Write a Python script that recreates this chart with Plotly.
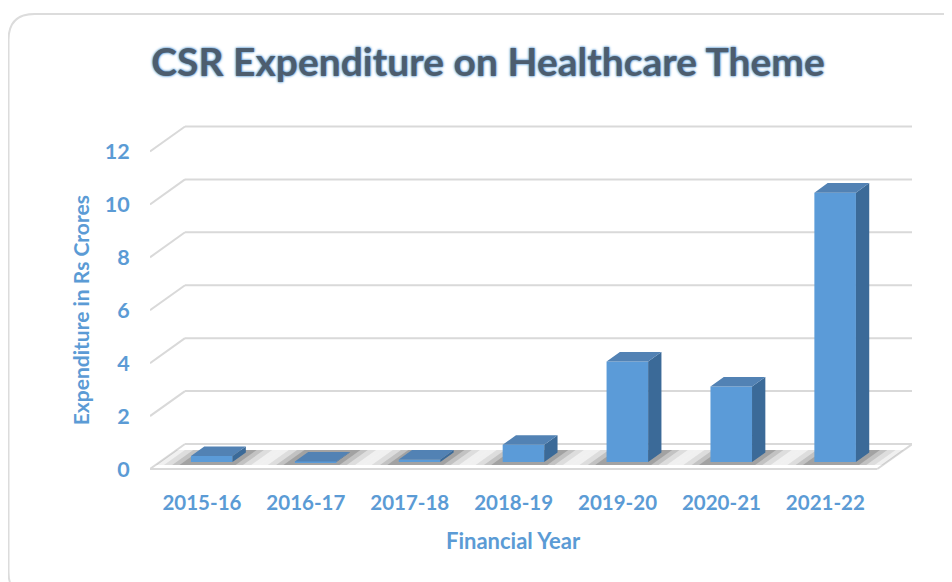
import plotly.graph_objects as go

# ---------------- data ----------------
years = ["2015-16", "2016-17", "2017-18", "2018-19", "2019-20", "2020-21", "2021-22"]
expenditure = [0.23, 0.02, 0.10, 0.65, 3.80, 2.85, 10.18]   # Rs Crores
y_ticks = [0, 2, 4, 6, 8, 10, 12]

title_text = "CSR Expenditure on Healthcare Theme"
x_title = "Financial Year"
y_title = "Expenditure in Rs Crores"

# ---------------- styling / geometry ----------------
FONT = "Lato, Open Sans, sans-serif"
LABEL_BLUE = "#5b9bd5"
FRONT = "#5b9bd8"
SIDE = "#3b6a98"
TOP = "#5282b4"
GRID = "#d9d9d9"

W, H = 952, 582
ML, MR, MT, MB = 142, 48, 117, 117
X_RANGE = [-0.5, 6.834]
Y_RANGE = [-0.15, 13]

DX = 0.337      # x shift (axis units) for full floor depth
DY = 0.945      # y shift (axis units) for full floor depth
F0, F1 = 0.28, 0.66   # bar front / back depth fraction
BW = 0.40       # bar width

n = len(years)
xs = list(range(n))
bar_x = [i + F0 * DX for i in xs]
base = F0 * DY
ddx = (F1 - F0) * DX
ddy = (F1 - F0) * DY

# side and top faces computed from the values
side_x, side_y, top_x, top_y = [], [], [], []
for xc, v in zip(bar_x, expenditure):
    xl, xr = xc - BW / 2, xc + BW / 2
    yt = base + v
    side_x += [xr, xr, xr + ddx, xr + ddx, xr, None]
    side_y += [base, yt, yt + ddy, base + ddy, base, None]
    top_x += [xl, xr, xr + ddx, xl + ddx, xl, None]
    top_y += [yt, yt, yt + ddy, yt + ddy, yt, None]

fig = go.Figure()
fig.add_trace(go.Bar(
    x=bar_x, y=expenditure, base=base, width=BW,
    marker=dict(color=FRONT, line=dict(width=0)),
    customdata=years, hovertemplate="%{customdata}: %{y}<extra></extra>",
    showlegend=False,
))
fig.add_trace(go.Scatter(x=side_x, y=side_y, fill="toself", fillcolor=SIDE,
                         mode="lines", line=dict(width=0, color=SIDE),
                         hoverinfo="skip", showlegend=False))
fig.add_trace(go.Scatter(x=top_x, y=top_y, fill="toself", fillcolor=TOP,
                         mode="lines", line=dict(width=0, color=TOP),
                         hoverinfo="skip", showlegend=False))

shapes = []
# perspective gridlines
x0, x1 = X_RANGE[0], n - 0.5
for v in y_ticks:
    shapes.append(dict(type="line", xref="x", yref="y", layer="below",
                       x0=x0, y0=v, x1=x0 + DX, y1=v + DY,
                       line=dict(color=GRID, width=2)))
    shapes.append(dict(type="line", xref="x", yref="y", layer="below",
                       x0=x0 + DX, y0=v + DY, x1=x1 + DX, y1=v + DY,
                       line=dict(color=GRID, width=2)))
# floor front edge and right edge
shapes.append(dict(type="line", xref="x", yref="y", layer="below",
                   x0=x0, y0=0, x1=x1, y1=0, line=dict(color=GRID, width=2)))
shapes.append(dict(type="line", xref="x", yref="y", layer="below",
                   x0=x1, y0=0, x1=x1 + DX, y1=DY, line=dict(color=GRID, width=2)))

# soft floor shadows around each bar base
for xc in bar_x:
    for spread, alpha in [(0.30, 0.06), (0.22, 0.08), (0.14, 0.12), (0.07, 0.16)]:
        d0, d1 = F0 - 0.12, F1 + 0.1
        xa = xc - BW / 2 - spread - F0 * DX
        xb = xc + BW / 2 + spread - F0 * DX
        p = (f"M {xa + d0*DX},{d0*DY} L {xb + d0*DX},{d0*DY} "
             f"L {xb + d1*DX},{d1*DY} L {xa + d1*DX},{d1*DY} Z")
        shapes.append(dict(type="path", xref="x", yref="y", layer="below",
                           path=p, fillcolor=f"rgba(0,0,0,{alpha})",
                           line=dict(width=0)))

# rounded card border (figure pixel -> paper)
pw, ph = W - ML - MR, H - MT - MB
def px(x): return (x - ML) / pw
def py(y): return (H - MB - y) / ph
r = 26
L, T, R, B = 0.5, 6, 975, 590
path = (f"M {px(R)},{py(T)} L {px(L + r)},{py(T)} Q {px(L)},{py(T)} {px(L)},{py(T + r)} "
        f"L {px(L)},{py(B - r)} Q {px(L)},{py(B)} {px(L + r)},{py(B)} L {px(R)},{py(B)}")
shapes.append(dict(type="path", xref="paper", yref="paper", layer="below",
                   path=path, line=dict(color="#dcdcdc", width=2)))

fig.update_layout(
    width=W, height=H, autosize=False,
    margin=dict(l=ML, r=MR, t=MT, b=MB),
    paper_bgcolor="white", plot_bgcolor="white",
    shapes=shapes,
    title=dict(text=title_text, xref="container", x=480 / W, xanchor="center",
               yref="container", y=1 - 54 / H, yanchor="middle",
               font=dict(family=FONT, size=39, color="#4d5d6e", weight="bold",
                         shadow="0px 0px 2px #5b9bd5, 0px 0px 3px #5b9bd5")),
    xaxis=dict(range=X_RANGE, tickmode="array", tickvals=xs, ticktext=years,
               showgrid=False, zeroline=False, showline=False,
               ticks="outside", ticklen=11, tickcolor="rgba(0,0,0,0)",
               tickfont=dict(family=FONT, size=20.5, color=LABEL_BLUE, weight="bold"),
               fixedrange=True),
    yaxis=dict(range=Y_RANGE, tickmode="array", tickvals=y_ticks,
               showgrid=False, zeroline=False, showline=False,
               ticks="outside", ticklen=15, tickcolor="rgba(0,0,0,0)",
               tickfont=dict(family=FONT, size=21.5, color=LABEL_BLUE, weight="bold"),
               fixedrange=True),
    annotations=[
        dict(text=x_title, xref="x", x=3, yref="paper", y=0, yshift=-67,
             xanchor="center", yanchor="middle", showarrow=False,
             font=dict(family=FONT, size=22, color=LABEL_BLUE, weight="bold")),
        dict(text=y_title, xref="paper", x=0, xshift=-70, yref="y", y=6,
             xanchor="center", yanchor="middle", textangle=-90, showarrow=False,
             font=dict(family=FONT, size=21, color=LABEL_BLUE, weight="bold")),
    ],
)

fig.write_html("out.html")
